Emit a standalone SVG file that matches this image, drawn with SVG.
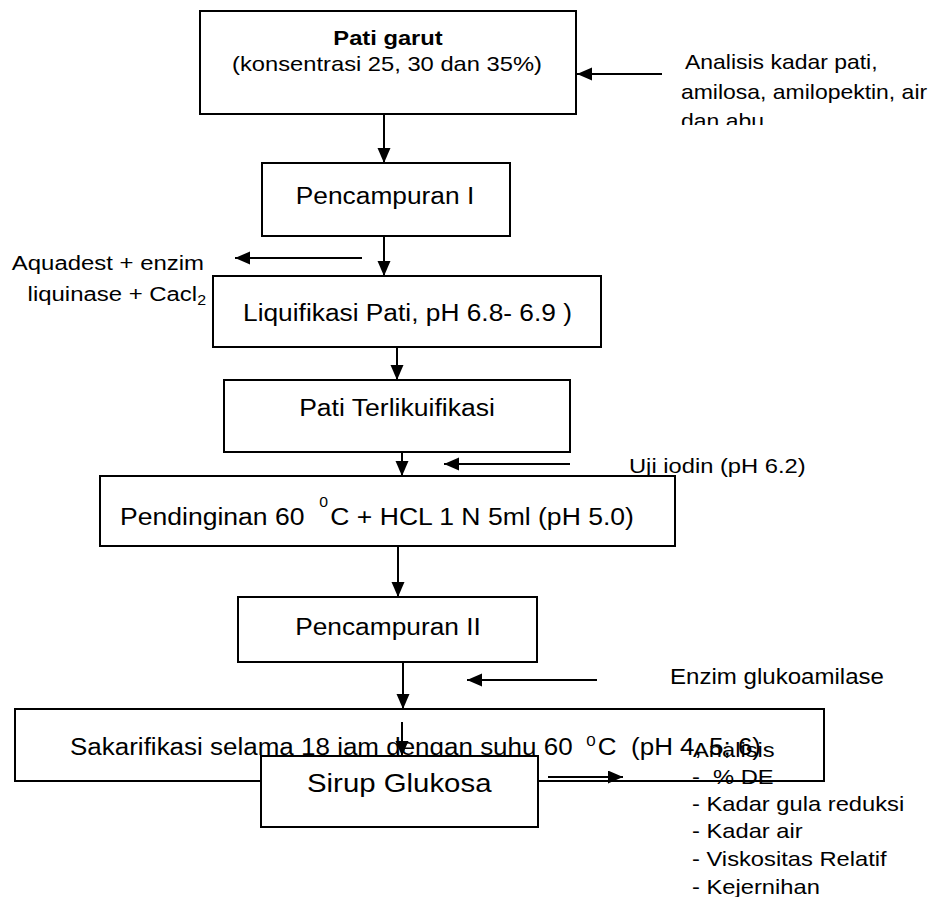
<svg xmlns="http://www.w3.org/2000/svg" width="940" height="897" viewBox="0 0 940 897">
<style>
.box{fill:#fff;stroke:#000;stroke-width:2}
.t{font-family:"Liberation Sans",Arial,sans-serif;fill:#000}
.c{stroke:#000;stroke-width:2;fill:none}
</style>
<defs>
<marker id="ah" markerUnits="userSpaceOnUse" markerWidth="16" markerHeight="14" refX="15" refY="6.5" orient="auto">
<path d="M0,0 L15,6.5 L0,13 z" fill="#000"/>
</marker>
<clipPath id="clipA"><rect x="600" y="0" width="340" height="125"/></clipPath>
</defs>
<rect width="940" height="897" fill="#fff"/>

<g id="n-pati-garut">
<rect class="box" x="200" y="11" width="376" height="103"/>
<text class="t" font-size="21" font-weight="bold" text-anchor="middle" transform="translate(388,45) scale(1.13,1)">Pati garut</text>
<text class="t" font-size="21" text-anchor="middle" transform="translate(387,71) scale(1.13,1)">(konsentrasi 25, 30 dan 35%)</text>
</g>

<g id="n-pencampuran1">
<rect class="box" x="262" y="163" width="248" height="73"/>
<text class="t" font-size="23.5" text-anchor="middle" transform="translate(385,204) scale(1.12,1)">Pencampuran I</text>
</g>

<g id="n-liquifikasi">
<rect class="box" x="213" y="276" width="388" height="71"/>
<text class="t" font-size="23.5" transform="translate(243,321) scale(1.12,1)">Liquifikasi Pati, pH 6.8- 6.9 )</text>
</g>

<g id="n-pati-terlikuifikasi">
<rect class="box" x="224" y="380" width="346" height="72"/>
<text class="t" font-size="23.5" text-anchor="middle" transform="translate(397,416) scale(1.13,1)">Pati Terlikuifikasi</text>
</g>

<g id="n-pendinginan">
<rect class="box" x="100" y="476" width="575" height="70"/>
<text class="t" font-size="23.5" transform="translate(120,525) scale(1.13,1)">Pendinginan 60&#160; <tspan font-size="14" dy="-18">0</tspan><tspan dy="18" dx="2">C + HCL 1 N 5ml (pH 5.0)</tspan></text>
</g>

<g id="n-pencampuran2">
<rect class="box" x="238" y="597" width="299" height="65"/>
<text class="t" font-size="23.5" text-anchor="middle" transform="translate(388,635) scale(1.12,1)">Pencampuran II</text>
</g>

<g id="n-sakarifikasi">
<rect class="box" x="15" y="709" width="809" height="72"/>
<text class="t" font-size="23" transform="translate(70,755) scale(1.13,1)">Sakarifikasi selama 18 jam dengan suhu 60<tspan font-size="15" dx="12" dy="-9">0</tspan><tspan dy="9" dx="2">C&#160; (pH 4, 5; 6)</tspan></text>
</g>

<g id="n-sirup">
<rect class="box" x="261" y="756" width="277" height="71"/>
<text class="t" font-size="26" transform="translate(307,792) scale(1.13,1)">Sirup Glukosa</text>
</g>

<g id="connectors">
<line class="c" x1="384" y1="114" x2="384" y2="163" marker-end="url(#ah)"/>
<line class="c" x1="662" y1="74" x2="577" y2="74" marker-end="url(#ah)"/>
<line class="c" x1="384" y1="236" x2="384" y2="276" marker-end="url(#ah)"/>
<line class="c" x1="362" y1="258" x2="235" y2="258" marker-end="url(#ah)"/>
<line class="c" x1="397" y1="347" x2="397" y2="380" marker-end="url(#ah)"/>
<line class="c" x1="402" y1="452" x2="402" y2="476" marker-end="url(#ah)"/>
<line class="c" x1="570" y1="464" x2="444" y2="464" marker-end="url(#ah)"/>
<line class="c" x1="398" y1="546" x2="398" y2="597" marker-end="url(#ah)"/>
<line class="c" x1="403" y1="662" x2="403" y2="709" marker-end="url(#ah)"/>
<line class="c" x1="597" y1="680" x2="467" y2="680" marker-end="url(#ah)"/>
<line class="c" x1="402" y1="722" x2="402" y2="756" marker-end="url(#ah)"/>
<line class="c" x1="548" y1="777" x2="623" y2="777" marker-end="url(#ah)"/>
</g>

<g id="a-analisis-bahan" clip-path="url(#clipA)">
<text class="t" font-size="20.5" transform="translate(685,69) scale(1.12,1)">Analisis kadar pati,</text>
<text class="t" font-size="20.5" transform="translate(681,99) scale(1.12,1)">amilosa, amilopektin, air</text>
<text class="t" font-size="20.5" transform="translate(681,128) scale(1.12,1)">dan abu</text>
</g>

<g id="a-aquadest">
<text class="t" font-size="21" text-anchor="end" transform="translate(204,270) scale(1.14,1)">Aquadest + enzim</text>
<text class="t" font-size="21" text-anchor="end" transform="translate(206,301) scale(1.14,1)">liquinase + Cacl<tspan font-size="14" dy="4">2</tspan></text>
</g>

<g id="a-uji-iodin">
<text class="t" font-size="21" transform="translate(629,473) scale(1.13,1)">Uji iodin (pH 6.2)</text>
</g>

<g id="a-enzim">
<text class="t" font-size="21.5" transform="translate(670,684) scale(1.12,1)">Enzim glukoamilase</text>
</g>

<g id="a-analisis-produk">
<text class="t" font-size="21" transform="translate(693,757) scale(1.13,1)">Analisis</text>
<text class="t" font-size="21" transform="translate(692,784) scale(1.13,1)">-&#160; % DE</text>
<text class="t" font-size="21" transform="translate(692,811) scale(1.13,1)">- Kadar gula reduksi</text>
<text class="t" font-size="21" transform="translate(692,838) scale(1.13,1)">- Kadar air</text>
<text class="t" font-size="21" transform="translate(692,866) scale(1.13,1)">- Viskositas Relatif</text>
<text class="t" font-size="21" transform="translate(692,894) scale(1.13,1)">- Kejernihan</text>
</g>
</svg>
